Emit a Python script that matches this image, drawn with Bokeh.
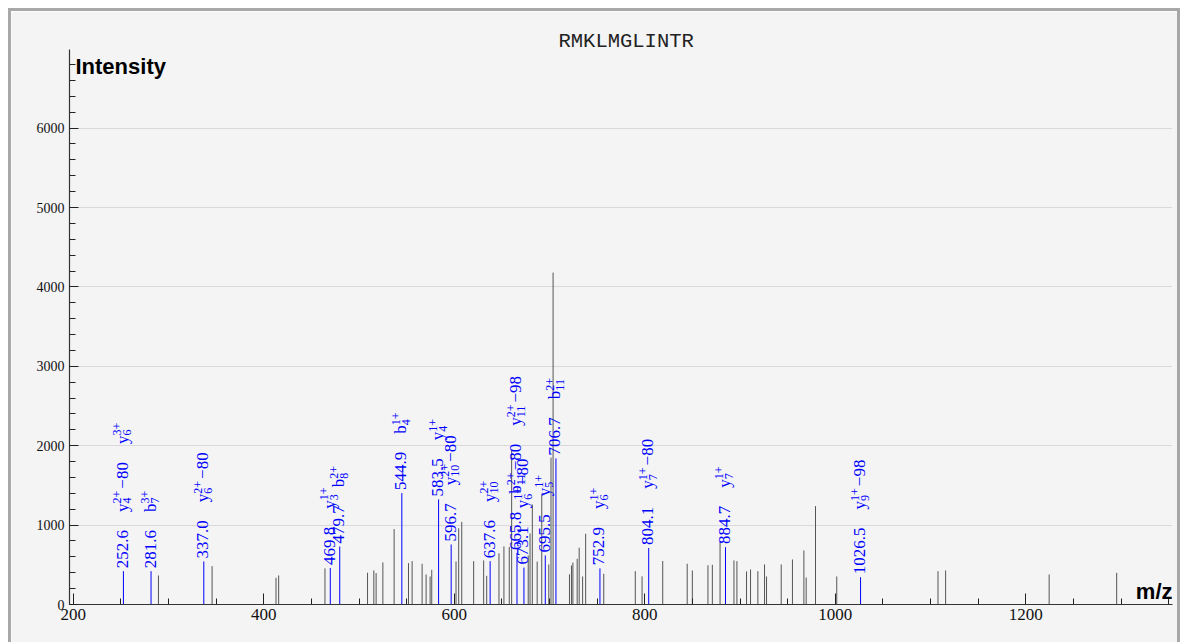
import math
from bokeh.plotting import figure
from bokeh.models import Range1d, SingleIntervalTicker, Label, ColumnDataSource
from bokeh.embed import file_html
from bokeh.resources import INLINE
from bokeh.core.properties import value

title_text = "RMKLMGLINTR"
x_label = "m/z"
y_label = "Intensity"

# unannotated peaks (m/z, intensity)
peak_mz = [289.4, 345.7, 412.8, 415.6, 464.2, 508.9, 515.5, 517.9, 525.0, 536.8,
           551.9, 555.7, 566.2, 570.4, 574.6, 576.3, 601.8, 604.6, 607.8, 620.3,
           630.8, 634.0, 646.9, 652.1, 657.7, 660.2, 677.6, 679.5, 681.9, 687.0,
           691.8, 699.2, 701.5, 703.7, 720.9, 723.0, 724.5, 729.0, 731.1, 734.7,
           737.9, 756.9, 790.0, 797.1, 818.8, 844.5, 849.9, 866.3, 870.9, 879.0,
           893.6, 896.7, 906.8, 911.0, 918.7, 925.7, 927.8, 943.2, 955.0, 967.0,
           969.4, 979.2, 1001.5, 1107.8, 1115.8, 1224.5, 1295.4]
peak_int = [366, 483, 336, 366, 455, 400, 429, 395, 530, 950,
            521, 546, 513, 378, 353, 437, 542, 960, 1040, 546,
            555, 361, 645, 731, 723, 1950, 618, 895, 1260, 540,
            1395, 504, 1850, 4180, 380, 492, 528, 576, 715, 353,
            891, 387, 420, 355, 548, 513, 429, 494, 500, 786,
            555, 546, 416, 441, 420, 504, 353, 504, 567, 681,
            340, 1239, 353, 420, 429, 378, 399]

# annotated (matched) peaks
ann_mz = [252.6, 281.6, 337.0, 469.8, 479.7, 544.9, 583.5, 596.7, 637.6,
          665.8, 673.1, 695.5, 706.7, 752.9, 804.1, 884.7, 1026.5]
ann_int = [420, 420, 542, 460, 730, 1403, 1324, 756, 546,
           650, 465, 618, 1840, 455, 712, 723, 344]
# ion labels: (ion type, index, charge, neutral loss)
ann_ions = [
    [("y", "4", "2+", "\u221280"), ("y", "6", "3+", "")],
    [("b", "7", "3+", "")],
    [("y", "6", "2+", "\u221280")],
    [("y", "3", "1+", "")],
    [("b", "8", "2+", "")],
    [("b", "4", "1+", "")],
    [("y", "4", "1+", "")],
    [("y", "10", "2+", "\u221280")],
    [("y", "10", "2+", "")],
    [("b", "11", "2+", "\u221280"), ("y", "11", "2+", "\u221298")],
    [("y", "6", "1+", "\u221280")],
    [("y", "5", "1+", "")],
    [("b", "11", "2+", "")],
    [("y", "6", "1+", "")],
    [("y", "7", "1+", "\u221280")],
    [("y", "7", "1+", "")],
    [("y", "9", "1+", "\u221298")],
]

X0, X1 = 196.0, 1354.0
Y0, Y1 = 0.0, 6990.0
PX_X = 0.953      # px per m/z unit
PX_Y = 0.07933    # px per intensity unit

p = figure(width=1172, height=634, output_backend="svg", toolbar_location=None,
           x_range=Range1d(X0, X1), y_range=Range1d(Y0, Y1),
           min_border_left=58, min_border_right=11, min_border_top=38, min_border_bottom=41,
           background_fill_color="#f4f4f4", border_fill_color="#f4f4f4")
p.styles = {"border": "3px solid #a8a8a8", "border-bottom": "none", "margin": "8px 0 0 8px"}
p.outline_line_color = None

p.title.text = title_text
p.title.align = "left"
p.title.offset = 489
p.title.text_font = "Liberation Mono"
p.title.text_font_size = "20.5px"
p.title.text_font_style = "normal"
p.title.text_color = "#222222"
p.title.standoff = -6

p.xgrid.visible = False
p.ygrid.grid_line_color = "#d9d9d9"
p.ygrid.grid_line_width = 1

p.xaxis.ticker = SingleIntervalTicker(interval=200, num_minor_ticks=4)
p.yaxis.ticker = SingleIntervalTicker(interval=1000, num_minor_ticks=5)
for ax in (p.xaxis, p.yaxis):
    ax.axis_line_color = "#333333"
    ax.axis_line_width = 1.2
    ax.major_tick_line_color = "#222222"
    ax.minor_tick_line_color = "#222222"
    ax.major_tick_out = 0
    ax.minor_tick_out = 0
    ax.minor_tick_in = 6
    ax.major_label_text_font = "Liberation Serif"
    ax.major_label_text_color = "#111111"
p.xaxis.major_tick_in = 11
p.yaxis.major_tick_in = 9
p.xaxis.major_label_text_font_size = "17px"
p.yaxis.major_label_text_font_size = "14px"
p.xaxis.major_label_standoff = 4
p.yaxis.major_label_standoff = 5

# peaks
p.segment(x0=peak_mz, y0=[0] * len(peak_mz), x1=peak_mz, y1=peak_int,
          line_color="#555555", line_width=1)
p.segment(x0=ann_mz, y0=[0] * len(ann_mz), x1=ann_mz, y1=ann_int,
          line_color="#0000ff", line_width=1)

# annotation texts (rotated, stacked upward above each matched peak)
W = {".": 0.25, "+": 0.564, "\u2212": 0.564}
def tw(s, fs):
    return sum(W.get(c, 0.5) for c in s) * fs

MAIN, SMALL, GAP, START = 17, 12, 18, 3
tx, ty, tt, txo, tyo, tfs = [], [], [], [], [], []
def add(x, y, t, xo, yo, fs):
    tx.append(x); ty.append(y); tt.append(t); txo.append(xo); tyo.append(yo); tfs.append(f"{fs}px")

for mz, it, ions in zip(ann_mz, ann_int, ann_ions):
    cur = START
    lab = f"{mz:.1f}"
    add(mz, it, lab, -1, -cur, MAIN)
    cur += tw(lab, MAIN) + GAP
    for ion, sub, chg, loss in ions:
        add(mz, it, ion, -1, -cur, MAIN)
        cur += tw(ion, MAIN)
        add(mz, it, sub, 4, -cur, SMALL)
        add(mz, it, chg, -6, -cur, SMALL)
        cur += max(tw(sub, SMALL), tw(chg, SMALL))
        if loss:
            cur += 2
            add(mz, it, loss, -1, -cur, MAIN)
            cur += tw(loss, MAIN)
        cur += GAP

src = ColumnDataSource(dict(x=tx, y=ty, text=tt, xo=txo, yo=tyo, fs=tfs))
p.text(x="x", y="y", text="text", x_offset="xo", y_offset="yo", text_font_size="fs",
       angle=math.pi / 2, text_align="left", text_baseline="middle",
       text_font=value("Liberation Serif"), text_color="#0000ff", source=src)

# axis names
p.add_layout(Label(x=X0 + 6 / PX_X, y=Y1 - 17 / PX_Y, text=y_label,
                   text_font="Liberation Sans", text_font_style="bold",
                   text_font_size="22px", text_color="#000000",
                   text_baseline="middle", text_align="left"))
p.add_layout(Label(x=X1, y=13 / PX_Y, text=x_label,
                   text_font="Liberation Sans", text_font_style="bold",
                   text_font_size="22px", text_color="#000000",
                   text_baseline="middle", text_align="right"))

open("out.html", "w").write(file_html(p, INLINE))
